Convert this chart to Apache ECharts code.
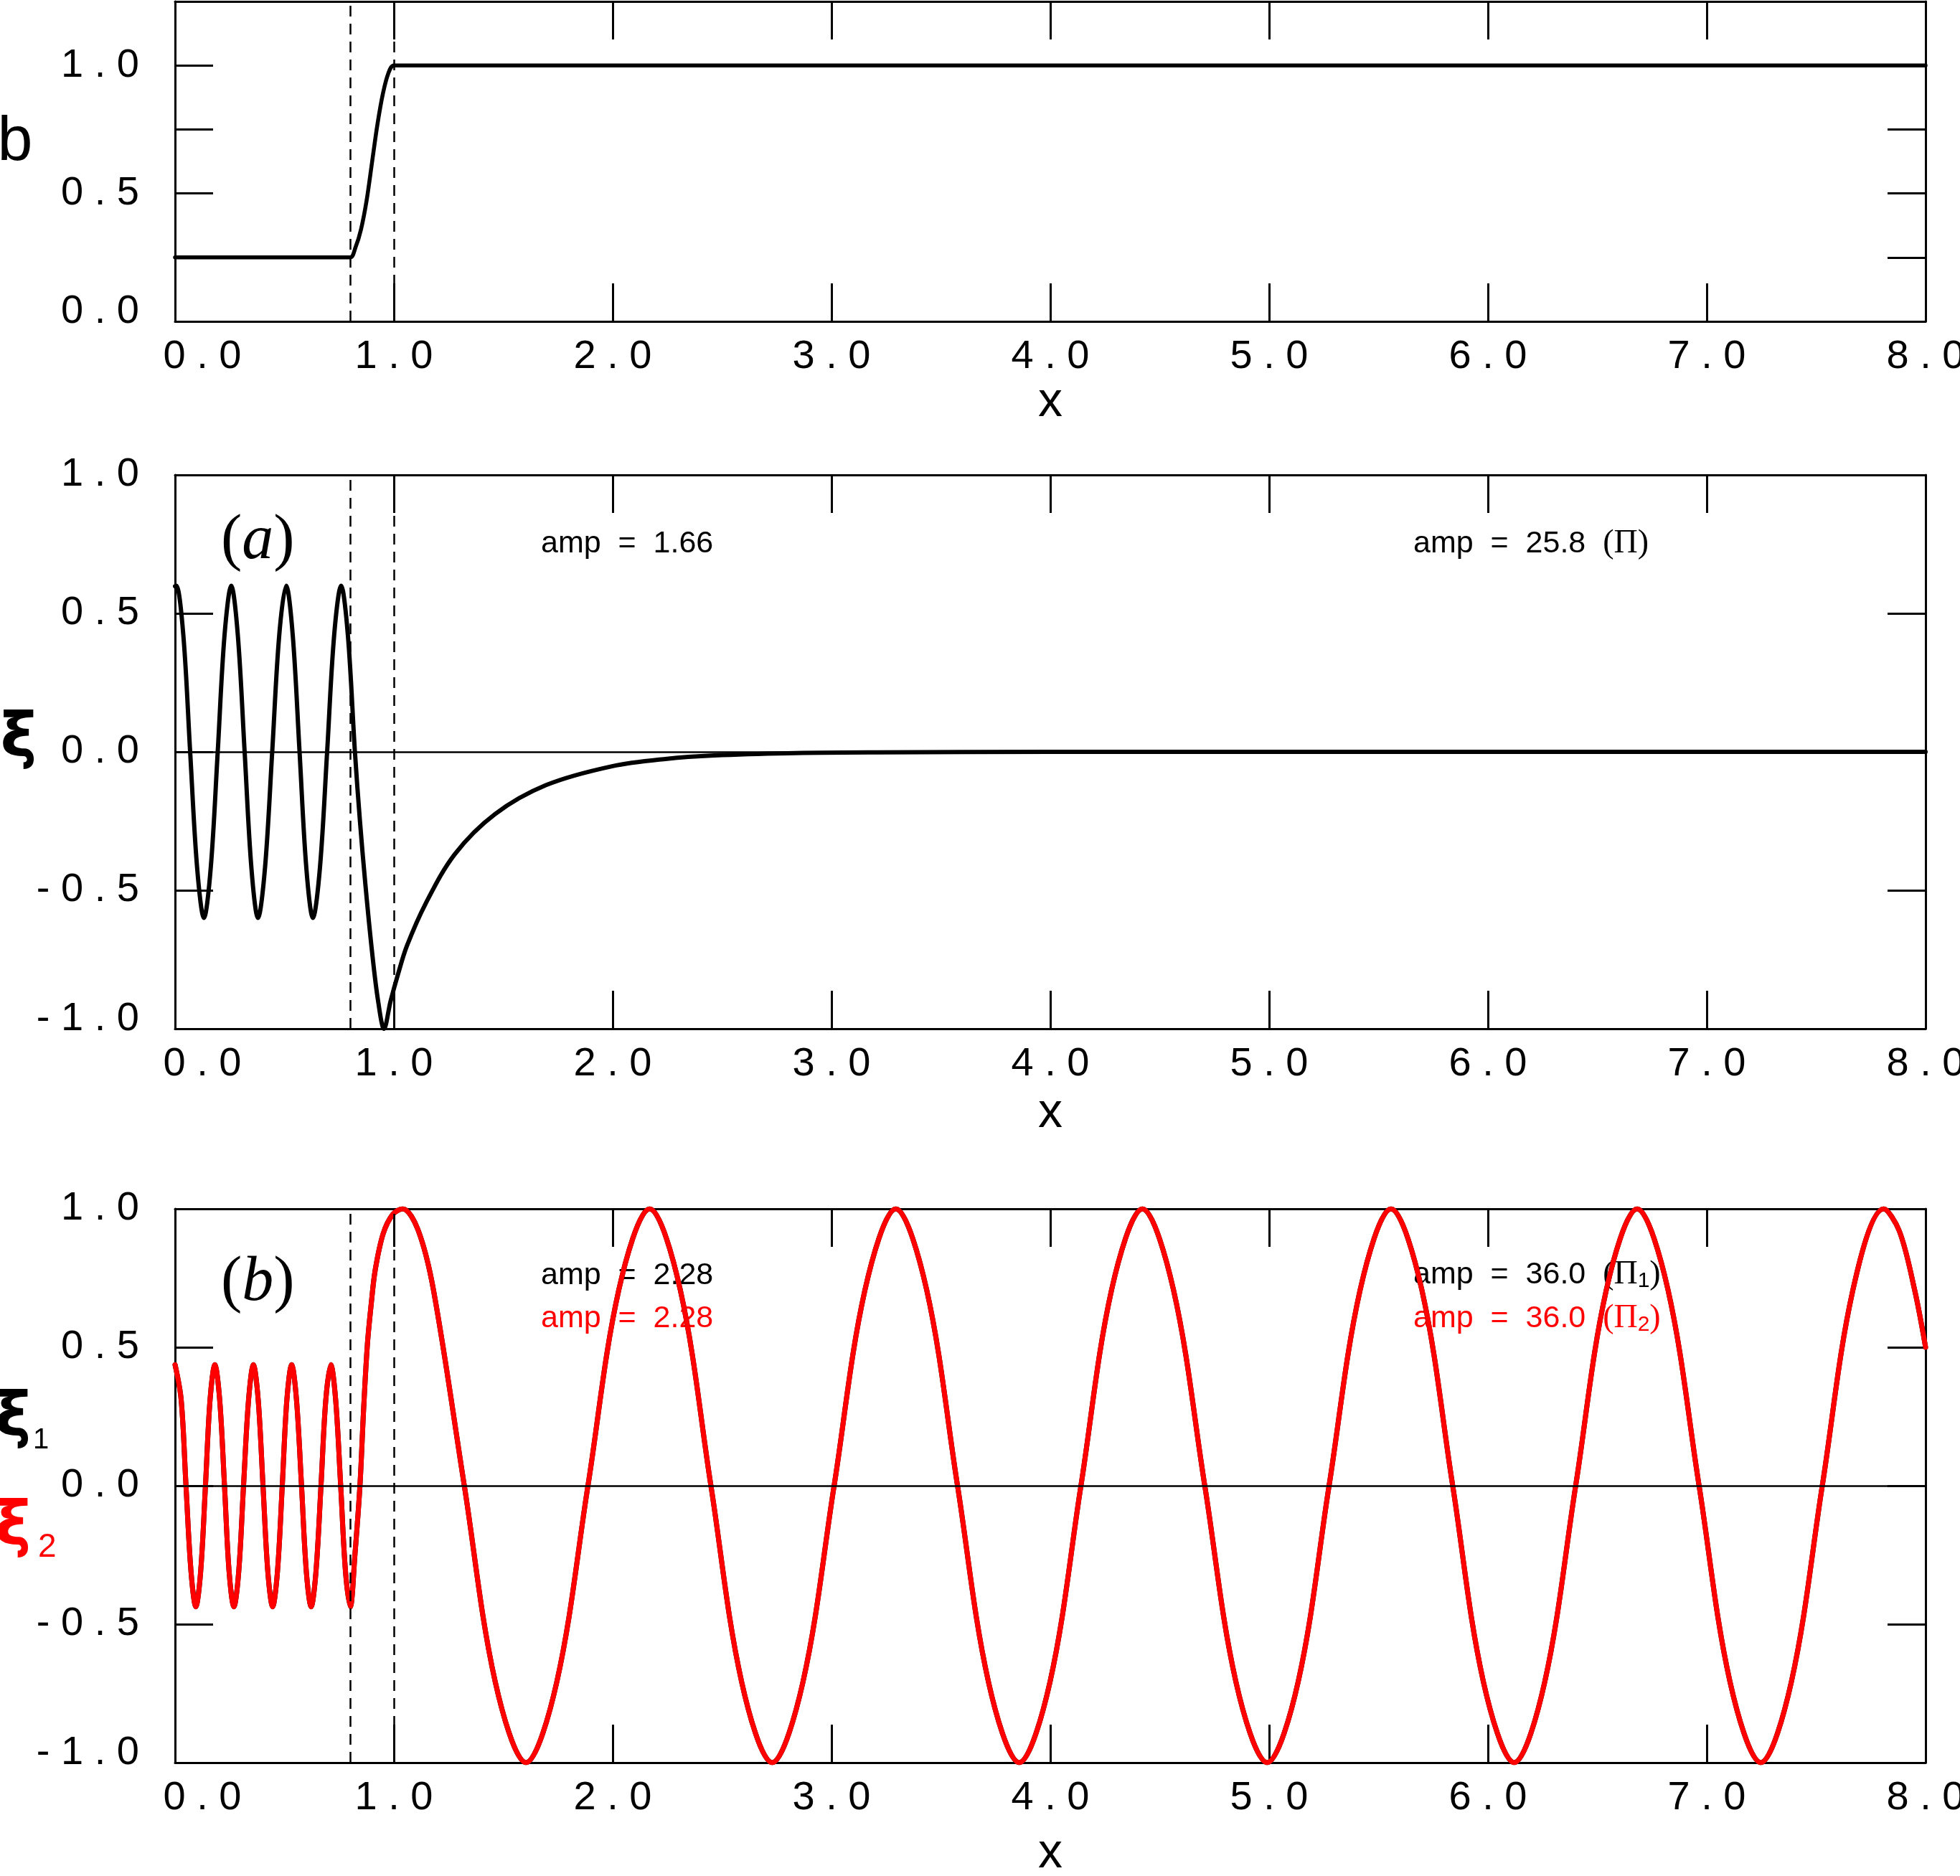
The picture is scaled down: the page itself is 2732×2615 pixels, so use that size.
<!DOCTYPE html>
<html><head><meta charset="utf-8">
<script src="https://cdn.jsdelivr.net/npm/echarts@6/dist/echarts.min.js"></script>
<style>html,body{margin:0;padding:0;background:#fff}#c{width:2732px;height:2615px}</style>
</head><body><div id="c"></div>
<script>
// ---------- data ----------
// top panel: b(x)
const bX = [0, 0.7, 0.8, 0.825, 0.85, 0.875, 0.9, 0.925, 0.95, 0.975, 1.0, 1.1, 8.0];
const bY = [0.25, 0.25, 0.25, 0.29, 0.36, 0.47, 0.62, 0.77, 0.89, 0.97, 1.0, 1.0, 1.0];

// panel (a): xi(x)
const aX = [0, 0.006, 0.038, 0.069, 0.101, 0.132, 0.163, 0.195, 0.226, 0.257, 0.287, 0.318, 0.349, 0.379,
  0.411, 0.444, 0.476, 0.508, 0.538, 0.569, 0.600, 0.630, 0.662, 0.695, 0.727, 0.759, 0.790, 0.822,
  0.845, 0.870, 0.900, 0.928, 0.955, 0.985, 1.020, 1.060, 1.144, 1.278, 1.462, 1.696, 1.997, 2.248,
  2.465, 2.800, 3.200, 4.000, 6.000, 8.000];
const aXi = [0.598, 0.60, 0.42, 0, -0.42, -0.60, -0.42, 0, 0.42, 0.60, 0.42, 0, -0.42, -0.60,
  -0.42, 0, 0.42, 0.60, 0.42, 0, -0.42, -0.60, -0.42, 0, 0.42, 0.60, 0.42, 0,
  -0.25, -0.48, -0.72, -0.90, -1.00, -0.90, -0.80, -0.70, -0.55, -0.37, -0.225, -0.12, -0.052, -0.025,
  -0.013, -0.005, -0.002, 0, 0, 0];

// panel (b): xi1 (black) and xi2 (red) coincide
const bpX = [0.000, 0.028, 0.050, 0.073, 0.095, 0.117, 0.139, 0.160, 0.182, 0.204, 0.226, 0.247, 0.269,
  0.291, 0.313, 0.336, 0.358, 0.380, 0.402, 0.424, 0.446, 0.468, 0.490, 0.511, 0.533, 0.555, 0.578,
  0.600, 0.622, 0.644, 0.667, 0.689, 0.712, 0.734, 0.757, 0.779, 0.801, 0.822, 0.845, 0.862, 0.879,
  0.897, 0.915, 0.951, 0.995, 1.040, 1.110, 1.181, 1.322, 1.463, 1.604, 1.745, 1.887, 2.028, 2.169,
  2.309, 2.449, 2.589, 2.729, 2.870, 3.012, 3.153, 3.294, 3.435, 3.576, 3.717, 3.858, 3.999, 4.140,
  4.280, 4.421, 4.563, 4.706, 4.848, 4.991, 5.133, 5.274, 5.416, 5.557, 5.698, 5.839, 5.979, 6.120,
  6.260, 6.401, 6.541, 6.682, 6.823, 6.965, 7.106, 7.247, 7.387, 7.528, 7.668, 7.809, 7.880, 7.950, 8.000];
const bpXi1 = [0.437, 0.31, 0, -0.31, -0.437, -0.31, 0, 0.31, 0.437, 0.31, 0, -0.31, -0.437,
  -0.31, 0, 0.31, 0.437, 0.31, 0, -0.31, -0.437, -0.31, 0, 0.31, 0.437, 0.31, 0,
  -0.31, -0.437, -0.31, 0, 0.31, 0.437, 0.31, 0, -0.31, -0.437, -0.25, 0, 0.28, 0.51,
  0.66, 0.78, 0.91, 0.98, 1.00, 0.925, 0.707, 0, -0.707, -1, -0.707, 0, 0.707, 1,
  0.707, 0, -0.707, -1, -0.707, 0, 0.707, 1, 0.707, 0, -0.707, -1, -0.707, 0,
  0.707, 1, 0.707, 0, -0.707, -1, -0.707, 0, 0.707, 1, 0.707, 0, -0.707, -1,
  -0.707, 0, 0.707, 1, 0.707, 0, -0.707, -1, -0.707, 0, 0.707, 1, 0.92, 0.707, 0.50];
const bpXi2 = bpXi1.slice();

// vertical dashed markers
const markerX = [0.8, 1.0];

// annotation texts
const ampA = ['amp  =  1.66', 'amp  =  25.8  '];
const ampB = ['amp  =  2.28', 'amp  =  36.0  '];

// ---------- helpers ----------
const SANS = 'Liberation Sans';
const SERIF = 'Liberation Serif';
function pairs(xs, ys) { return xs.map((x, i) => [x, ys[i]]); }
function spaced(v) {
  const s = Math.abs(v).toFixed(1).split('').join(' ');
  return (v < -1e-9 ? '- ' : '') + s;
}
function xFmt(v) { return Math.abs(v) < 1e-9 ? '{first|' + spaced(v) + '}' : spaced(v); }

const chart = echarts.init(document.getElementById('c'), null, { renderer: 'canvas' });

const grids = [
  { left: 244, right: 48, top: 2, height: 446 },
  { left: 244, right: 48, top: 662, height: 772 },
  { left: 244, right: 48, top: 1685, height: 772 }
].map(g => Object.assign({ outerBoundsMode: 'none', containLabel: false }, g));

const lineBlack = { color: '#000', width: 3 };
const tickStyle = { inside: true, show: true, length: 53, lineStyle: { color: '#000', width: 3 } };

const xAxes = [], yAxes = [];
const nameGaps = [74, 84, 93];
const yCfg = [
  { min: 0, max: 1.25, interval: 0.25, fmt: v => (v > 1.0001 || Math.abs(v * 2 - Math.round(v * 2)) > 1e-6) ? '' : (Math.abs(v) < 1e-9 ? '{low|' + spaced(v) + '}' : spaced(v)) },
  { min: -1, max: 1, interval: 0.5, fmt: v => (v < -0.999 ? '{low|' + spaced(v) + '}' : spaced(v)) },
  { min: -1, max: 1, interval: 0.5, fmt: v => (v < -0.999 ? '{low|' + spaced(v) + '}' : spaced(v)) }
];
for (let g = 0; g < 3; g++) {
  xAxes.push({
    gridIndex: g, type: 'value', min: 0, max: 8, interval: 1, position: 'bottom',
    axisLine: { show: true, onZero: false, lineStyle: lineBlack },
    axisTick: tickStyle, splitLine: { show: false },
    axisLabel: { show: true, margin: 22, fontSize: 56, fontFamily: SANS, color: '#000', formatter: xFmt,
      rich: { first: { fontSize: 56, fontFamily: SANS, color: '#000', padding: [0, 0, 0, 76] } } },
    name: 'x', nameLocation: 'middle', nameGap: nameGaps[g],
    nameTextStyle: { fontSize: 68, fontFamily: SANS, color: '#000' }
  });
  xAxes.push({
    gridIndex: g, type: 'value', min: 0, max: 8, interval: 1, position: 'top',
    axisLine: { show: true, onZero: false, lineStyle: lineBlack },
    axisTick: tickStyle, splitLine: { show: false }, axisLabel: { show: false }
  });
  yAxes.push({
    gridIndex: g, type: 'value', min: yCfg[g].min, max: yCfg[g].max, interval: yCfg[g].interval, position: 'left',
    axisLine: { show: true, onZero: false, lineStyle: lineBlack },
    axisTick: tickStyle, splitLine: { show: false },
    axisLabel: { show: true, margin: 50, fontSize: 56, fontFamily: SANS, color: '#000', formatter: yCfg[g].fmt,
      rich: { low: { fontSize: 56, fontFamily: SANS, color: '#000', padding: [0, 0, 26, 0] } } }
  });
  yAxes.push({
    gridIndex: g, type: 'value', min: yCfg[g].min, max: yCfg[g].max, interval: yCfg[g].interval, position: 'right',
    axisLine: { show: true, onZero: false, lineStyle: lineBlack },
    axisTick: tickStyle, splitLine: { show: false }, axisLabel: { show: false }
  });
}

function marks(withZero) {
  const dash = { type: [15, 10], width: 2.5, color: '#000' };
  const data = markerX.map(x => ({ xAxis: x, lineStyle: dash }));
  if (withZero) data.push({ yAxis: 0, lineStyle: { type: 'solid', width: 2.5, color: '#000' } });
  return { silent: true, symbol: ['none', 'none'], label: { show: false }, animation: false, data };
}

function lineSeries(name, g, xs, ys, color, width, mk) {
  return {
    name, type: 'line', xAxisIndex: g * 2, yAxisIndex: g * 2, data: pairs(xs, ys),
    showSymbol: false, symbol: 'none', smooth: 0.34, clip: true,
    lineStyle: { color, width, join: 'round', cap: 'round' }, emphasis: { disabled: true }, animation: false,
    markLine: mk ? marks(g > 0) : undefined, z: 3
  };
}

const series = [
  lineSeries('b', 0, bX, bY, '#000', 5.5, true),
  lineSeries('xi', 1, aX, aXi, '#000', 6, true),
  lineSeries('xi1', 2, bpX, bpXi1, '#000', 7, true),
  lineSeries('xi2', 2, bpX, bpXi2, '#ff0000', 7, false)
];

function txt(x, y, text, font, fill, align, rich) {
  const st = { text, font, fill, textAlign: align || 'left', textVerticalAlign: 'middle', align: align || 'left', verticalAlign: 'middle' };
  if (rich) st.rich = rich;
  return { type: 'text', x, y, z: 1, silent: true, style: st };
}
const piRich = (color) => ({
  t: { fontSize: 43, fontFamily: SANS, fill: color, color },
  s: { fontSize: 46, fontFamily: SERIF, fill: color, color },
  sub: { fontSize: 30, fontFamily: SANS, fill: color, color, padding: [18, 0, 0, 0] }
});
const labRich = {
  p: { fontSize: 88, fontFamily: SERIF, color: '#000', fill: '#000' },
  i: { fontSize: 88, fontFamily: SERIF, fontStyle: 'italic', color: '#000', fill: '#000' }
};

const graphics = [
  txt(21, 199, 'b', '88px "Liberation Sans"', '#000', 'center'),
  txt(26, 1032, 'ξ', 'bold 86px "DejaVu Sans"', '#000', 'center'),
  txt(18, 1979, 'ξ', 'bold 86px "DejaVu Sans"', '#000', 'center'),
  txt(46, 2008, '1', '40px "Liberation Sans"', '#000', 'left'),
  txt(18, 2131, 'ξ', 'bold 86px "DejaVu Sans"', '#ff0000', 'center'),
  txt(53, 2157, '2', '46px "Liberation Sans"', '#ff0000', 'left'),
  txt(308, 755, '{p|(}{i|a}{p|)}', '88px "Liberation Serif"', '#000', 'left', labRich),
  txt(308, 1789, '{p|(}{i|b}{p|)}', '88px "Liberation Serif"', '#000', 'left', labRich),
  txt(754, 758, ampA[0], '43px "Liberation Sans"', '#000', 'left'),
  txt(1970, 758, '{t|' + ampA[1] + '}{s|(Π)}', '43px "Liberation Sans"', '#000', 'left', piRich('#000')),
  txt(754, 1778, ampB[0], '43px "Liberation Sans"', '#000', 'left'),
  txt(754, 1838, ampB[0], '43px "Liberation Sans"', '#ff0000', 'left'),
  txt(1970, 1777, '{t|' + ampB[1] + '}{s|(Π}{sub|1}{s|)}', '43px "Liberation Sans"', '#000', 'left', piRich('#000')),
  txt(1970, 1838, '{t|' + ampB[1] + '}{s|(Π}{sub|2}{s|)}', '43px "Liberation Sans"', '#ff0000', 'left', piRich('#ff0000'))
];

chart.setOption({
  backgroundColor: '#fff',
  animation: false,
  grid: grids,
  xAxis: xAxes,
  yAxis: yAxes,
  series,
  graphic: graphics
});
</script></body></html>
